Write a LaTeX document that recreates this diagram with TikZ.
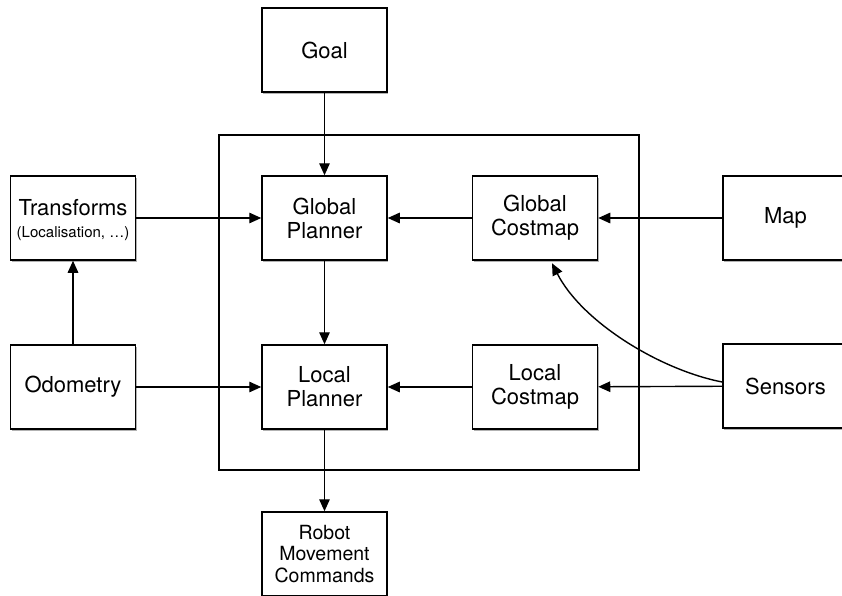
\documentclass[tikz,border=0pt]{standalone}
\usepackage{fontspec}
\setmainfont{TeX Gyre Heros}
\usetikzlibrary{arrows.meta,shadows}
\begin{document}
\begin{tikzpicture}[x=1pt,y=-1pt,
  blk/.style={draw=black, line width=1.5pt, fill=white, minimum width=125pt, minimum height=84pt,
    align=center, inner sep=0pt, font=\fontsize{22}{24}\selectfont,
    drop shadow={shadow xshift=1.2pt, shadow yshift=-1.6pt, opacity=0.3, fill=black}},
  arr/.style={line width=1.4pt, -{Triangle[length=12pt,width=10.5pt]}},
  frame/.style={draw=black, line width=1.4pt}
]
\useasboundingbox (0,0) rectangle (842,595);
\draw[frame] (219,135) rectangle (639,470);
\node[blk] (goal) at (324.5,50) {Goal};
\node[blk] (gp) at (324.5,218) {Global\\Planner};
\node[blk] (gc) at (535,218) {Global\\Costmap};
\node[blk] (tf) at (73,218) {\rule{0pt}{20pt}Transforms\\[-2pt]{\fontsize{15}{16}\selectfont (Localisation, …)}};
\node[blk] (map) at (785.5,218) {Map};
\node[blk] (od) at (73,387) {Odometry};
\node[blk] (lp) at (324.5,387) {Local\\Planner};
\node[blk] (lc) at (535,387) {Local\\Costmap};
\node[blk] (sens) at (785.5,386) {Sensors};
\node[blk, font=\fontsize{19.5}{21.5}\selectfont] (rob) at (324.5,554) {Robot\\Movement\\Commands};

\draw[arr] (goal) -- (gp);
\draw[arr] (gp) -- (lp);
\draw[arr] (lp) -- (rob);
\draw[arr] (tf) -- (gp);
\draw[arr] (gc) -- (gp);
\draw[arr] (map) -- (gc);
\draw[arr] (od) -- (tf);
\draw[arr] (od) -- (lp);
\draw[arr] (lc) -- (lp);
\draw[arr] (sens) -- (lc);
\draw[arr] ([yshift=4pt]sens.west) .. controls (660,370) and (582,322) .. ([xshift=17pt,yshift=-2.5pt]gc.south);
\end{tikzpicture}
\end{document}
